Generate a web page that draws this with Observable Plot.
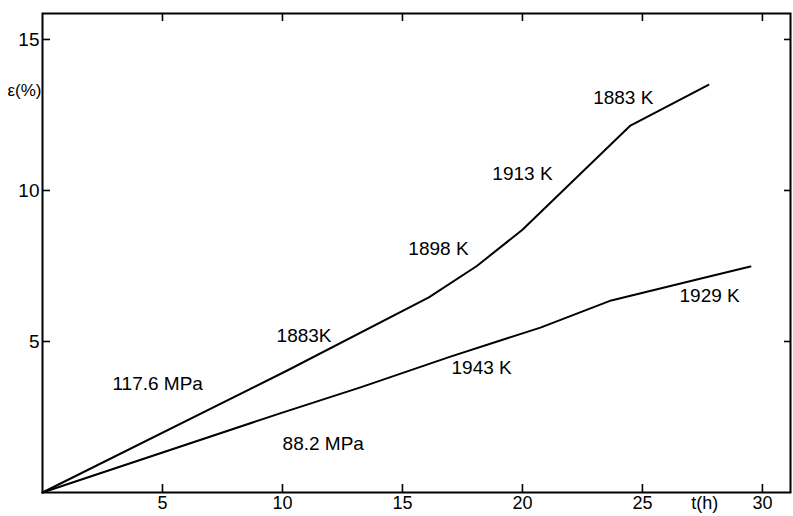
<!DOCTYPE html>
<html><head><meta charset="utf-8">
<script src="https://cdn.jsdelivr.net/npm/d3@7"></script>
<script src="https://cdn.jsdelivr.net/npm/@observablehq/plot@0.6"></script>
<style>body{margin:0;background:#fff;overflow:hidden}</style>
</head><body><div id="chart"></div>
<script>
const upperT = [0, 10.2, 16.1, 18.1, 20.0, 24.5, 27.75];
const upperEps = [0, 4.04, 6.46, 7.5, 8.7, 12.15, 13.5];
const lowerT = [0, 9.9, 13.25, 17.0, 20.75, 23.7, 27.4, 29.5];
const lowerEps = [0, 2.62, 3.48, 4.5, 5.46, 6.36, 7.08, 7.48];
const xTicks = [5, 10, 15, 20, 25, 30];
const yTicks = [5, 10, 15];
const labelText = ["117.6 MPa", "88.2 MPa", "1883K", "1943 K", "1898 K", "1913 K", "1883 K", "1929 K"];
const labelT = [4.8, 11.7, 10.9, 18.3, 16.5, 20.0, 24.2, 27.8];
const labelEps = [3.6, 1.62, 5.17, 4.14, 8.08, 10.56, 13.08, 6.52];
const yTitle = "ε(%)";
const xTitle = "t(h)";

const upper = upperT.map((t, i) => ({t, e: upperEps[i]}));
const lower = lowerT.map((t, i) => ({t, e: lowerEps[i]}));
const labels = labelText.map((s, i) => ({s, t: labelT[i], e: labelEps[i]}));

const chart = Plot.plot({
  width: 793, height: 516,
  marginLeft: 42, marginRight: 3, marginTop: 13, marginBottom: 24,
  x: {domain: [0, 31.17]},
  y: {domain: [0, 15.86]},
  style: {fontFamily: "'Liberation Sans', sans-serif", fontSize: "19px", color: "#000", background: "#fff"},
  marks: [
    Plot.frame({stroke: "#000", strokeWidth: 2}),
    Plot.axisX({ticks: xTicks, anchor: "bottom", tickSize: -8, tickPadding: 12, strokeWidth: 1.6, label: null, fontSize: 18}),
    Plot.axisX({ticks: xTicks, anchor: "top", tickSize: -7, text: null, strokeWidth: 1.6, label: null}),
    Plot.axisY({ticks: yTicks, anchor: "left", tickSize: -8, tickPadding: 11, strokeWidth: 1.6, label: null, fontSize: 19}),
    Plot.axisY({ticks: yTicks, anchor: "right", tickSize: -7, text: null, strokeWidth: 1.6, label: null}),
    Plot.line(upper, {x: "t", y: "e", stroke: "#000", strokeWidth: 2}),
    Plot.line(lower, {x: "t", y: "e", stroke: "#000", strokeWidth: 2}),
    Plot.text(labels, {x: "t", y: "e", text: "s", fontSize: 19, letterSpacing: 1.5, fill: "#000"}),
    Plot.text([yTitle], {x: 0, y: 13.3, dx: -18, fontSize: 17, fill: "#000"}),
    Plot.text([xTitle], {x: 27.6, y: 0, fontSize: 18, fill: "#000", lineAnchor: "top", dy: 4})
  ]
});
document.getElementById("chart").append(chart);
</script>
</body></html>
